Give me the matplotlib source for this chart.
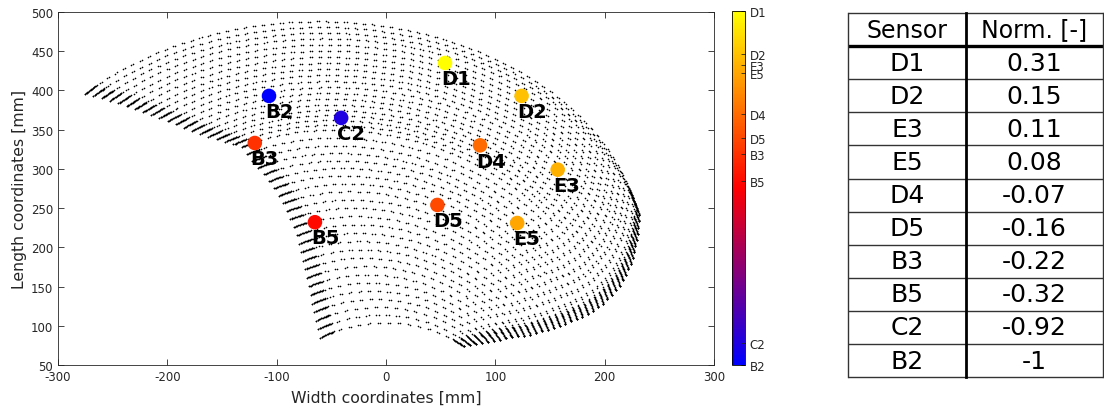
import numpy as np
import matplotlib
import matplotlib.pyplot as plt
from matplotlib.colors import LinearSegmentedColormap, Normalize

plt.rcParams['font.family'] = 'DejaVu Sans'
plt.rcParams['axes.unicode_minus'] = False

# sensors, normalised values and where they sit on the surface [mm]
sensors = ["D1", "D2", "E3", "E5", "D4", "D5", "B3", "B5", "C2", "B2"]
norm_vals = [0.31, 0.15, 0.11, 0.08, -0.07, -0.16, -0.22, -0.32, -0.92, -1]
norm_txt = ["0.31", "0.15", "0.11", "0.08", "-0.07", "-0.16", "-0.22", "-0.32", "-0.92", "-1"]
sens_x = [54, 124, 157, 120, 86, 47, -120, -65, -41, -107]
sens_y = [435, 393, 299, 231, 330, 254, 333, 232, 365, 393]

left_x = [-60, -66, -71, -76, -81, -88, -95, -104, -112, -124, -132, -167, -206, -252, -277]
left_y = [85, 120, 153, 185, 213, 238, 259, 278, 293, 312, 328, 343, 364, 387, 397]
right_x = [71, 114, 134, 157, 184, 198, 215, 225, 230, 232, 227]
right_y = [74, 85, 89, 99, 114, 127, 153, 181, 214, 240, 263]
# innermost / outermost mesh row: centre x, centre y, radius
row_in = (-1, 3, 101)
row_out = (-61, 193, 295)
n_rows = 44

PX, PY = 1.093, 0.783   # pixels per mm on the plot


def arc(row, p0, p1, t):
    cx, cy, r = row
    a0 = np.arctan2(p0[1] - cy, p0[0] - cx)
    a1 = np.arctan2(p1[1] - cy, p1[0] - cx)
    a = a0 + t * (a1 - a0)
    return np.column_stack([cx + r * np.cos(a), cy + r * np.sin(a)])


def polyline(xs, ys, s, first, last):
    p = np.column_stack([xs, ys]).astype(float)
    p[0], p[-1] = first, last
    d = np.r_[0, np.cumsum(np.hypot(np.diff(p[:, 0]) * PX, np.diff(p[:, 1]) * PY))]
    d /= d[-1]
    return np.column_stack([np.interp(s, d, p[:, 0]), np.interp(s, d, p[:, 1])])


def mesh_points():
    t = np.linspace(0, 1, 600)
    pL0, pR0 = (left_x[0], left_y[0]), (right_x[0], right_y[0])
    pL1, pR1 = (left_x[-1], left_y[-1]), (right_x[-1], right_y[-1])
    B = arc(row_in, pL0, pR0, t)
    T = arc(row_out, pL1, pR1, t)
    B0, B1, T0, T1 = B[0], B[-1], T[0], T[-1]
    xs, ys = [], []
    for s in np.linspace(0, 1, n_rows):
        Ls = polyline(left_x, left_y, s, B0, T0)[0]
        Rs = polyline(right_x, right_y, s, B1, T1)[0]
        tt = t[:, None]
        P = ((1 - s) * B + s * T + (1 - tt) * Ls + tt * Rs
             - ((1 - s) * (1 - tt) * B0 + (1 - s) * tt * B1 + s * (1 - tt) * T0 + s * tt * T1))
        d = np.r_[0, np.cumsum(np.hypot(np.diff(P[:, 0]) * PX, np.diff(P[:, 1]) * PY))]
        L = d[-1]
        u = np.linspace(0, L, max(int(L / 9), 2))
        end = np.linspace(0, 13, 9)
        u = np.r_[u, end, L - end]
        u = np.r_[u, np.clip(u + 2.2, 0, L)]
        xs.append(np.interp(u, d, P[:, 0]))
        ys.append(np.interp(u, d, P[:, 1]))
    return np.concatenate(xs), np.concatenate(ys)


W, H = 1104, 414
fig = plt.figure(figsize=(W / 100, H / 100), dpi=100)
ax = fig.add_axes([58 / W, 48 / H, 656 / W, 353 / H])

mx, my = mesh_points()
ax.scatter(mx, my, s=1.4, c='k', lw=0, zorder=1)

cmap = LinearSegmentedColormap.from_list("br_y", [(0, 0, 1), (1, 0, 0), (1, 1, 0)])
norm = Normalize(vmin=-1, vmax=0.31)
ax.scatter(sens_x, sens_y, s=110, c=norm_vals, cmap=cmap, norm=norm, lw=0, zorder=3)
for name, x, y in zip(sensors, sens_x, sens_y):
    ax.annotate(name, (x, y), xytext=(-3, -4.5), textcoords='offset points',
                ha='left', va='top', fontsize=14, fontweight='bold', zorder=4)

ax.set_xlim(-300, 300)
ax.set_ylim(50, 500)
ax.set_xticks(np.arange(-300, 301, 100))
ax.set_yticks(np.arange(50, 501, 50))
ax.tick_params(direction='in', top=True, right=True, length=4, width=0.6,
               labelsize=8.5, colors='#262626')
for sp in ax.spines.values():
    sp.set_linewidth(0.6)
    sp.set_color('#262626')
ax.set_xlabel("Width coordinates [mm]", fontsize=11.3, color='#262626', labelpad=5)
ax.set_ylabel("Length coordinates [mm]", fontsize=11.3, color='#262626', labelpad=3)

cax = fig.add_axes([732 / W, 48 / H, 13 / W, 354 / H])
sm = matplotlib.cm.ScalarMappable(norm=norm, cmap=cmap)
cb = fig.colorbar(sm, cax=cax, ticks=norm_vals)
cb.ax.set_yticklabels(sensors)
cb.ax.tick_params(direction='in', length=3, width=0.6, labelsize=8.5, colors='#262626')
cb.outline.set_linewidth(0.6)

# table on the right
tx0, tx1, tdiv = 848, 1103, 966
ty0, rh = 14, 33.1
tax = fig.add_axes([tx0 / W, (H - ty0 - 11 * rh) / H, (tx1 - tx0) / W, 11 * rh / H])
tax.set_xlim(tx0, tx1)
tax.set_ylim(ty0 + 11 * rh, ty0)
tax.axis('off')
for i in range(12):
    y = ty0 + i * rh
    lw, col = (2.4, 'k') if i == 1 else (1.0, '#333333')
    tax.plot([tx0, tx1], [y, y], color=col, lw=lw, clip_on=False, solid_capstyle='butt')
tax.plot([tx0, tx0], [ty0, ty0 + 11 * rh], color='#333333', lw=1.0, clip_on=False)
tax.plot([tx1, tx1], [ty0, ty0 + 11 * rh], color='#333333', lw=1.0, clip_on=False)
tax.plot([tdiv, tdiv], [ty0, ty0 + 11 * rh], color='k', lw=2.0, clip_on=False)
c1, c2 = (tx0 + tdiv) / 2, (tdiv + tx1) / 2
tax.text(c1, ty0 + 0.5 * rh, "Sensor", ha='center', va='center', fontsize=17)
tax.text(c2, ty0 + 0.5 * rh, "Norm. [-]", ha='center', va='center', fontsize=17)
for i, (name, txt) in enumerate(zip(sensors, norm_txt)):
    yc = ty0 + (i + 1.5) * rh
    tax.text(c1, yc, name, ha='center', va='center', fontsize=18)
    tax.text(c2, yc, txt, ha='center', va='center', fontsize=18)

fig.savefig("out.png", dpi=100)
